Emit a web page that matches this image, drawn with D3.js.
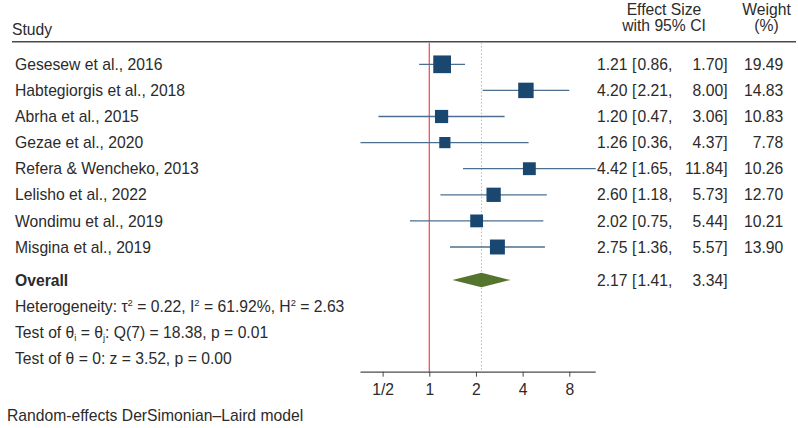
<!DOCTYPE html>
<html>
<head>
<meta charset="utf-8">
<script src="https://cdn.jsdelivr.net/npm/d3@7"></script>
<style>
  html, body { margin: 0; padding: 0; background: #fff; }
  svg text { font-family: "Liberation Sans", Arial, sans-serif; fill: #2b2b2b; }
</style>
</head>
<body>
<svg id="chart" width="798" height="428"></svg>
<script>
// ---- data ----
const studies = ["Gesesew et al., 2016", "Habtegiorgis et al., 2018", "Abrha et al., 2015", "Gezae et al., 2020",
                 "Refera & Wencheko, 2013", "Lelisho et al., 2022", "Wondimu et al., 2019", "Misgina et al., 2019"];
const effect = [1.21, 4.20, 1.20, 1.26, 4.42, 2.60, 2.02, 2.75];
const lower  = [0.86, 2.21, 0.47, 0.36, 1.65, 1.18, 0.75, 1.36];
const upper  = [1.70, 8.00, 3.06, 4.37, 11.84, 5.73, 5.44, 5.57];
const weight = [19.49, 14.83, 10.83, 7.78, 10.26, 12.70, 10.21, 13.90];
const overall = {label: "Overall", es: 2.17, lo: 1.41, hi: 3.34};
const tickValues = [0.5, 1, 2, 4, 8];
const tickLabels = ["1/2", "1", "2", "4", "8"];

// ---- layout ----
const svg = d3.select("#chart");
const FS = 15.7;
const fmt = d3.format(".2f");
const x = d3.scaleLog().base(2)
  .domain([d3.min(lower), d3.max(upper)])
  .range([360.5, 595.7]);
const y = d3.scalePoint().domain(d3.range(studies.length)).range([64.3, 247]);
const overallY = 280;
const side = d3.scaleSqrt().domain([0, d3.max(weight)]).range([0, 17.7]);
const headerLineY = 41.7, axisY = 371.7;

const colES = 627.5, colBr = 632, colLo = 637.5, colHi = 727.5, colW = 783.3;

function txt(xp, yp, s, anchor, opts) {
  const t = svg.append("text").attr("x", xp).attr("y", yp)
    .attr("font-size", FS).attr("text-anchor", anchor || "start").text(s);
  if (opts && opts.bold) t.attr("font-weight", "bold");
  return t;
}

// headers
txt(12, 35, "Study");
txt(664, 14.5, "Effect Size", "middle");
txt(664, 30.5, "with 95% CI", "middle");
txt(766.5, 14.5, "Weight", "middle");
txt(766.5, 30.5, "(%)", "middle");
svg.append("line").attr("x1", 12).attr("x2", 796).attr("y1", headerLineY).attr("y2", headerLineY)
  .attr("stroke", "#4a4a4a").attr("stroke-width", 1.6);

// reference lines
svg.append("line").attr("x1", x(overall.es)).attr("x2", x(overall.es))
  .attr("y1", headerLineY + 1).attr("y2", axisY)
  .attr("stroke", "#b8b8b8").attr("stroke-width", 1).attr("stroke-dasharray", "1.5,2");
svg.append("line").attr("x1", x(1)).attr("x2", x(1))
  .attr("y1", headerLineY + 1).attr("y2", axisY)
  .attr("stroke", "#f04545").attr("stroke-width", 1.2);

// study rows
const rows = svg.append("g").selectAll("g").data(studies).join("g");
rows.append("line")
  .attr("x1", (d, i) => x(lower[i])).attr("x2", (d, i) => x(upper[i]))
  .attr("y1", (d, i) => y(i)).attr("y2", (d, i) => y(i))
  .attr("stroke", "#4d6f8f").attr("stroke-width", 1.3);
rows.append("rect")
  .attr("x", (d, i) => x(effect[i]) - side(weight[i]) / 2)
  .attr("y", (d, i) => y(i) - side(weight[i]) / 2)
  .attr("width", (d, i) => side(weight[i]))
  .attr("height", (d, i) => side(weight[i]))
  .attr("fill", "#1a476f");
rows.each(function (d, i) {
  const yy = y(i) + 5.6;
  txt(15, yy, d);
  txt(colES, yy, fmt(effect[i]), "end");
  txt(colBr, yy, "[");
  txt(colLo, yy, fmt(lower[i]) + ",");
  txt(colHi, yy, fmt(upper[i]) + "]", "end");
  txt(colW, yy, fmt(weight[i]), "end");
});

// overall diamond
const dh = 7.3;
svg.append("path")
  .attr("d", `M${x(overall.lo)},${overallY} L${x(overall.es)},${overallY - dh} L${x(overall.hi)},${overallY} L${x(overall.es)},${overallY + dh} Z`)
  .attr("fill", "#55752f");
txt(15, overallY + 5.6, overall.label, "start", {bold: true});
txt(colES, overallY + 5.6, fmt(overall.es), "end");
txt(colBr, overallY + 5.6, "[");
txt(colLo, overallY + 5.6, fmt(overall.lo) + ",");
txt(colHi, overallY + 5.6, fmt(overall.hi) + "]", "end");

// stats text with super/subscripts: parts = [text, shift] where shift 0 normal, -1 super, +1 sub
function rich(yp, parts) {
  const t = svg.append("text").attr("x", 15).attr("y", yp).attr("font-size", FS);
  let cur = 0;
  parts.forEach(([s, shift]) => {
    const target = shift < 0 ? -6.5 : shift > 0 ? 3 : 0;
    t.append("tspan").attr("dy", target - cur)
      .attr("font-size", shift ? FS * 0.6 : FS).text(s);
    cur = target;
  });
  return t;
}
rich(312.3, [["Heterogeneity: τ", 0], ["2", -1], [" = 0.22, I", 0], ["2", -1], [" = 61.92%, H", 0], ["2", -1], [" = 2.63", 0]]);
rich(338.3, [["Test of θ", 0], ["i", 1], [" = θ", 0], ["j", 1], [": Q(7) = 18.38, p = 0.01", 0]]);
txt(15, 364, "Test of θ = 0: z = 3.52, p = 0.00");

// axis
const axis = d3.axisBottom(x).tickValues(tickValues).tickFormat((d, i) => tickLabels[i]).tickSize(5).tickPadding(7);
const ag = svg.append("g").attr("transform", `translate(0,${axisY})`).call(axis);
ag.select(".domain").attr("d", `M${x.range()[0]},0.5H${x.range()[1]}`).attr("stroke", "#4a4a4a").attr("stroke-width", 1.3);
ag.selectAll(".tick line").attr("stroke", "#4a4a4a");
ag.selectAll(".tick text").attr("font-size", FS).attr("font-family", "Liberation Sans, Arial, sans-serif").attr("fill", "#2b2b2b");

txt(7, 420.7, "Random-effects DerSimonian–Laird model");
</script>
</body>
</html>
